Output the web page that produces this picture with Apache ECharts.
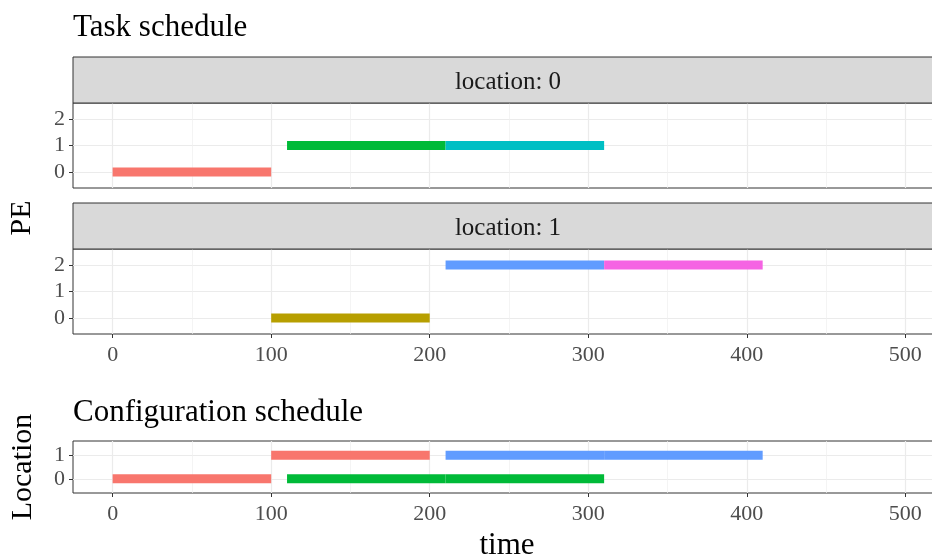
<!DOCTYPE html>
<html>
<head>
<meta charset="utf-8">
<script src="https://cdn.jsdelivr.net/npm/echarts@6/dist/echarts.min.js"></script>
<style>
  html, body { margin: 0; padding: 0; background: #fff; }
  #chart { width: 932px; height: 556px; }
</style>
</head>
<body>
<div id="chart"></div>
<script>
// tick labels
const xTicks = [0, 100, 200, 300, 400, 500];
const xMinorTicks = [50, 150, 250, 350, 450];
const peTicks = [0, 1, 2];
const locTicks = [0, 1];
const locations = [0, 1];

// task schedule: one entry per task (task id = index)
const taskLocation = [0, 1, 0, 0, 1, 1];
const taskPE = [0, 0, 1, 1, 2, 2];
const taskStart = [0, 100, 110, 210, 210, 310];
const taskEnd = [100, 200, 210, 310, 310, 410];

// configuration schedule
const configId = [0, 0, 1, 1, 2, 2];
const configLocation = [0, 1, 0, 0, 1, 1];
const configStart = [0, 100, 110, 210, 210, 310];
const configEnd = [100, 200, 210, 310, 310, 410];

const taskPalette = ['#F8766D', '#B79F00', '#00BA38', '#00BFC4', '#619CFF', '#F564E3'];
const configPalette = ['#F8766D', '#00BA38', '#619CFF'];

const FONT = '"Liberation Serif", "DejaVu Serif", serif';
const BAR_H = 9;

var chart = echarts.init(document.getElementById('chart'), null, { renderer: 'canvas' });

// draw a horizontal segment [start, end] at y
function renderSeg(params, api) {
  var s = api.coord([api.value(0), api.value(2)]);
  var e = api.coord([api.value(1), api.value(2)]);
  return {
    type: 'rect',
    shape: { x: s[0], y: s[1] - BAR_H / 2, width: e[0] - s[0], height: BAR_H },
    style: { fill: api.visual('color') }
  };
}

var panels = [
  { top: 103, height: 85, yMin: -0.6, yMax: 2.6, yTicks: peTicks, labels: false },
  { top: 249, height: 85, yMin: -0.6, yMax: 2.6, yTicks: peTicks, labels: true },
  { top: 441, height: 52, yMin: -0.6, yMax: 1.6, yTicks: locTicks, labels: true }
];

var grids = [], xAxes = [], yAxes = [];
panels.forEach(function (p, i) {
  grids.push({
    left: 73, top: p.top, width: 872, height: p.height,
    outerBoundsMode: 'none', containLabel: false,
    show: true, borderColor: '#333', borderWidth: 1, backgroundColor: 'transparent'
  });
  xAxes.push({
    type: 'value', gridIndex: i, min: -25, max: 525,
    axisLine: { show: false, onZero: false },
    axisTick: { show: p.labels, customValues: xTicks, length: 4, lineStyle: { color: '#333', width: 1 } },
    axisLabel: { show: p.labels, customValues: xTicks, color: '#4D4D4D', fontSize: 22, fontFamily: FONT, margin: 10 },
    splitLine: { show: true, lineStyle: { color: '#EBEBEB', width: 1.2 } }
  });
  xAxes.push({
    type: 'value', gridIndex: i, min: -25, max: 525,
    axisLine: { show: false, onZero: false },
    axisTick: { show: false, customValues: xMinorTicks },
    axisLabel: { show: false, customValues: xMinorTicks },
    splitLine: { show: true, lineStyle: { color: '#EFEFEF', width: 0.7 } }
  });
  yAxes.push({
    type: 'value', gridIndex: i, min: p.yMin, max: p.yMax,
    axisLine: { show: false, onZero: false },
    axisTick: { show: true, customValues: p.yTicks, length: 4, lineStyle: { color: '#333', width: 1 } },
    axisLabel: { show: true, customValues: p.yTicks, color: '#4D4D4D', fontSize: 22, fontFamily: FONT, margin: 8 },
    splitLine: { show: true, lineStyle: { color: '#EBEBEB', width: 1.2 } }
  });
});

var series = [];
locations.forEach(function (loc, i) {
  var data = [];
  for (var k = 0; k < taskStart.length; k++) {
    if (taskLocation[k] !== loc) continue;
    data.push({ value: [taskStart[k], taskEnd[k], taskPE[k]], itemStyle: { color: taskPalette[k] } });
  }
  series.push({
    type: 'custom', name: 'task loc ' + loc, xAxisIndex: i * 2, yAxisIndex: i,
    renderItem: renderSeg, encode: { x: [0, 1], y: 2 }, data: data, silent: true
  });
});
var cdata = [];
for (var k = 0; k < configStart.length; k++) {
  cdata.push({ value: [configStart[k], configEnd[k], configLocation[k]], itemStyle: { color: configPalette[configId[k]] } });
}
series.push({
  type: 'custom', name: 'config', xAxisIndex: 4, yAxisIndex: 2,
  renderItem: renderSeg, encode: { x: [0, 1], y: 2 }, data: cdata, silent: true
});

function txt(x, y, text, size, opts) {
  opts = opts || {};
  return {
    type: 'text', x: x, y: y, rotation: opts.rotation || 0, z: 10,
    style: {
      text: text, fontSize: size, fontFamily: FONT, fill: opts.fill || '#000',
      align: opts.align || 'left', verticalAlign: 'middle'
    }
  };
}

var graphics = [];
locations.forEach(function (loc, i) {
  var top = panels[i].top - 46;
  graphics.push({
    type: 'rect', shape: { x: 73, y: top, width: 872, height: 46 }, z: 5,
    style: { fill: '#D9D9D9', stroke: '#333', lineWidth: 1 }
  });
  graphics.push(txt(508, top + 25, 'location: ' + loc, 25, { align: 'center', fill: '#1A1A1A' }));
});
graphics.push(txt(73, 28, 'Task schedule', 31));
graphics.push(txt(73, 413, 'Configuration schedule', 31));
graphics.push(txt(22, 218, 'PE', 30, { align: 'center', rotation: Math.PI / 2 }));
graphics.push(txt(23, 467, 'Location', 30, { align: 'center', rotation: Math.PI / 2 }));
graphics.push(txt(507, 546, 'time', 31, { align: 'center' }));

chart.setOption({
  animation: false,
  backgroundColor: '#fff',
  grid: grids,
  xAxis: xAxes,
  yAxis: yAxes,
  series: series,
  graphic: graphics
});
</script>
</body>
</html>
